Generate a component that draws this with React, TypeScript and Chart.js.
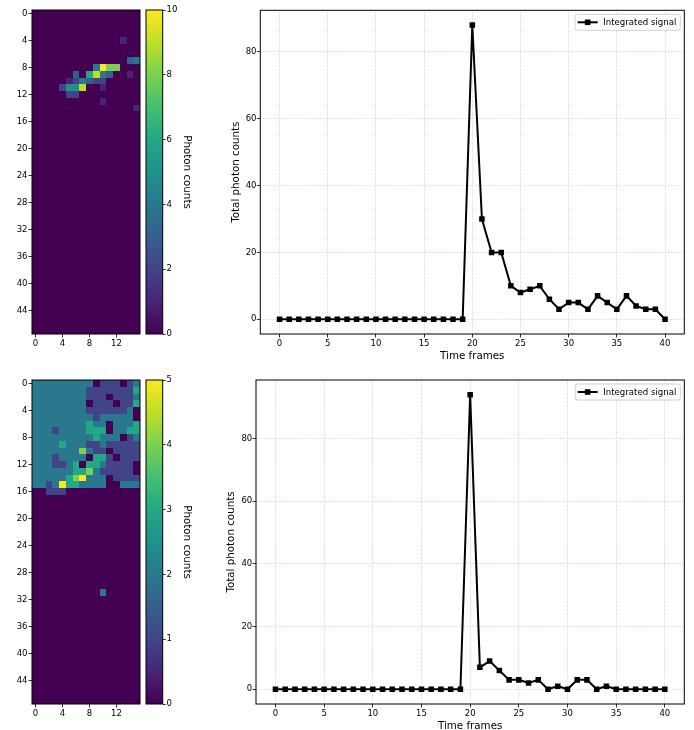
import React, { useEffect, useRef } from "react";
import { Chart, registerables } from "chart.js";

Chart.register(...registerables);

// ---------------- data ----------------
const FRAMES = [0, 1, 2, 3, 4, 5, 6, 7, 8, 9, 10, 11, 12, 13, 14, 15, 16, 17, 18, 19, 20, 21, 22, 23, 24, 25, 26, 27, 28, 29, 30, 31, 32, 33, 34, 35, 36, 37, 38, 39, 40];
const SIGNAL_TOP = [0, 0, 0, 0, 0, 0, 0, 0, 0, 0, 0, 0, 0, 0, 0, 0, 0, 0, 0, 0, 88, 30, 20, 20, 10, 8, 9, 10, 6, 3, 5, 5, 3, 7, 5, 3, 7, 4, 3, 3, 0];
const SIGNAL_BOTTOM = [0, 0, 0, 0, 0, 0, 0, 0, 0, 0, 0, 0, 0, 0, 0, 0, 0, 0, 0, 0, 94, 7, 9, 6, 3, 3, 2, 3, 0, 1, 0, 3, 3, 0, 1, 0, 0, 0, 0, 0, 0];

const LINE_X_TICKS = [0, 5, 10, 15, 20, 25, 30, 35, 40];
const LINE_Y_TICKS = [0, 20, 40, 60, 80];
const HEAT_X_TICKS = [0, 4, 8, 12];
const HEAT_Y_TICKS = [0, 4, 8, 12, 16, 20, 24, 28, 32, 36, 40, 44];
const CBAR_TICKS_TOP = [0, 2, 4, 6, 8, 10];
const CBAR_TICKS_BOTTOM = [0, 1, 2, 3, 4, 5];
const VMAX_TOP = 10;
const VMAX_BOTTOM = 5;

const HEAT_ROWS = 48;
const HEAT_COLS = 16;
// rows with photons: [row, 16 hex digits (a = 10)]; rows not listed are all 0
const TOP_FRAME_ROWS: [number, string][] = [
  [4, "0000000000000100"],
  [7, "0000000000000034"],
  [8, "0000000004a88000"],
  [9, "0000003069430010"],
  [10, "0000012432200000"],
  [11, "0000255900100000"],
  [12, "0000022000000000"],
  [13, "0000000000100000"],
  [14, "0000000000000001"],
];
const BOTTOM_FRAME_ROWS: [number, string][] = [
  [0, "2222222220111012"],
  [1, "2222222211111113"],
  [2, "2222222211101112"],
  [3, "2222222201110113"],
  [4, "2222222211111120"],
  [5, "2222222221222220"],
  [6, "2222222232202223"],
  [7, "2221222233302233"],
  [8, "2222222223222012"],
  [9, "2222322211211111"],
  [10, "2222222421101111"],
  [11, "2221222203310111"],
  [12, "2221123033211110"],
  [13, "2222223342111110"],
  [14, "2222234522201111"],
  [15, "2212533222200222"],
  [16, "0011100000000000"],
  [31, "0000000000200000"],
];

const SERIES_LABEL = "Integrated signal";
const X_TITLE = "Time frames";
const Y_TITLE = "Total photon counts";
const CBAR_TITLE = "Photon counts";

// ---------------- styling ----------------
const FONT = "'DejaVu Sans', 'Liberation Sans', sans-serif";
const TICK_PX = 8.5;
const LABEL_PX = 10.3;

const VIRIDIS_STOPS = ["#440154", "#482475", "#414487", "#355f8d", "#2a788e", "#21918c", "#22a884", "#44bf70", "#7ad151", "#bddf26", "#fde725"];
function hexRgb(h: string) {
  return [parseInt(h.slice(1, 3), 16), parseInt(h.slice(3, 5), 16), parseInt(h.slice(5, 7), 16)];
}
function viridis(t: number): string {
  const n = VIRIDIS_STOPS.length - 1;
  const tt = Math.min(1, Math.max(0, t)) * n;
  const i = Math.min(Math.floor(tt), n - 1);
  const f = tt - i;
  const a = hexRgb(VIRIDIS_STOPS[i]);
  const b = hexRgb(VIRIDIS_STOPS[i + 1]);
  const c = a.map((v, k) => Math.round(v + (b[k] - v) * f));
  return `rgb(${c[0]},${c[1]},${c[2]})`;
}

function buildGrid(rows: [number, string][]): number[][] {
  const g: number[][] = [];
  for (let r = 0; r < HEAT_ROWS; r++) g.push(new Array(HEAT_COLS).fill(0));
  for (const [r, s] of rows) for (let c = 0; c < HEAT_COLS; c++) g[r][c] = parseInt(s[c], 16);
  return g;
}

const tickFont = { family: FONT, size: TICK_PX };
const labelFont = { family: FONT, size: LABEL_PX };

function tickOpts(padding: number) {
  return { font: tickFont, color: "#000", padding, autoSkip: false, maxRotation: 0, minRotation: 0, callback: (v: any) => String(v) };
}
function tickGrid(len = 3.5) {
  return { display: true, drawOnChartArea: false, drawTicks: true, tickLength: len, tickColor: "#000", tickWidth: 0.8, color: "rgba(0,0,0,0)" };
}
function setTicks(list: number[]) {
  return (s: any) => {
    s.ticks = list.map((v) => ({ value: v }));
  };
}

const framePlugin = {
  id: "frame",
  afterDraw(chart: any) {
    const { ctx, chartArea: a } = chart;
    ctx.save();
    ctx.strokeStyle = "#000";
    ctx.lineWidth = 1;
    ctx.strokeRect(a.left, a.top, a.right - a.left, a.bottom - a.top);
    ctx.restore();
  },
};

function heatPlugin(grid: number[][], vmax: number) {
  return {
    id: "heat",
    beforeDatasetsDraw(chart: any) {
      const { ctx } = chart;
      const xs = chart.scales.x;
      const ys = chart.scales.y;
      ctx.save();
      for (let r = 0; r < grid.length; r++) {
        for (let c = 0; c < grid[r].length; c++) {
          const xa = Math.round(xs.getPixelForValue(c - 0.5));
          const xb = Math.round(xs.getPixelForValue(c + 0.5));
          const ya = Math.round(ys.getPixelForValue(r - 0.5));
          const yb = Math.round(ys.getPixelForValue(r + 0.5));
          ctx.fillStyle = viridis(grid[r][c] / vmax);
          ctx.fillRect(Math.min(xa, xb), Math.min(ya, yb), Math.abs(xb - xa), Math.abs(yb - ya));
        }
      }
      ctx.restore();
    },
  };
}

function cbarPlugin(vmax: number) {
  return {
    id: "cbar",
    beforeDatasetsDraw(chart: any) {
      const { ctx, chartArea: a } = chart;
      const ys = chart.scales.y;
      const y0 = ys.getPixelForValue(0);
      const y1 = ys.getPixelForValue(vmax);
      const grad = ctx.createLinearGradient(0, y0, 0, y1);
      const N = 64;
      for (let i = 0; i <= N; i++) grad.addColorStop(i / N, viridis(i / N));
      ctx.save();
      ctx.fillStyle = grad;
      ctx.fillRect(a.left, Math.min(y0, y1), a.right - a.left, Math.abs(y0 - y1));
      ctx.restore();
    },
  };
}

const legendPlugin = {
  id: "mplLegend",
  afterDraw(chart: any) {
    const { ctx, chartArea: a } = chart;
    const label = chart.data.datasets[0].label;
    ctx.save();
    ctx.font = `8.6px ${FONT}`;
    const tw = ctx.measureText(label).width;
    const h = 16;
    const w = 2.5 + 20 + 5.5 + tw + 4;
    const x = a.right - 4 - w;
    const y = a.top + 4;
    const r = 2.5;
    ctx.beginPath();
    ctx.moveTo(x + r, y);
    ctx.lineTo(x + w - r, y);
    ctx.arcTo(x + w, y, x + w, y + r, r);
    ctx.lineTo(x + w, y + h - r);
    ctx.arcTo(x + w, y + h, x + w - r, y + h, r);
    ctx.lineTo(x + r, y + h);
    ctx.arcTo(x, y + h, x, y + h - r, r);
    ctx.lineTo(x, y + r);
    ctx.arcTo(x, y, x + r, y, r);
    ctx.closePath();
    ctx.fillStyle = "rgba(255,255,255,0.85)";
    ctx.fill();
    ctx.strokeStyle = "#d0d0d0";
    ctx.lineWidth = 1;
    ctx.stroke();
    const cy = y + h / 2;
    ctx.strokeStyle = "#000";
    ctx.lineWidth = 2;
    ctx.beginPath();
    ctx.moveTo(x + 2.5, cy);
    ctx.lineTo(x + 22.5, cy);
    ctx.stroke();
    ctx.fillStyle = "#000";
    ctx.fillRect(x + 12.5 - 2.8, cy - 2.8, 5.6, 5.6);
    ctx.textBaseline = "middle";
    ctx.textAlign = "left";
    ctx.fillText(label, x + 28, cy + 0.5);
    ctx.restore();
  },
};

type Plot = { left: number; top: number; width: number; height: number };

function baseOptions() {
  return {
    animation: false,
    responsive: false,
    devicePixelRatio: 1,
    events: [],
    plugins: { legend: { display: false }, tooltip: { enabled: false } },
  };
}

function heatmapConfig(rows: [number, string][], vmax: number, plot: Plot, cw: number, ch: number) {
  const grid = buildGrid(rows);
  return {
    type: "scatter",
    data: { datasets: [] },
    options: {
      ...baseOptions(),
      layout: { padding: { left: 0, top: plot.top, right: cw - plot.left - plot.width, bottom: 0 } },
      scales: {
        x: {
          type: "linear", bounds: "data", min: -0.5, max: HEAT_COLS - 0.5,
          afterBuildTicks: setTicks(HEAT_X_TICKS),
          afterFit: (s: any) => { s.height = ch - plot.top - plot.height; },
          ticks: tickOpts(1.2), grid: tickGrid(), border: { display: false },
        },
        y: {
          type: "linear", bounds: "data", reverse: true, min: -0.5, max: HEAT_ROWS - 0.5,
          afterBuildTicks: setTicks(HEAT_Y_TICKS),
          afterFit: (s: any) => { s.width = plot.left; },
          ticks: tickOpts(1.0), grid: tickGrid(), border: { display: false },
        },
      },
    },
    plugins: [heatPlugin(grid, vmax), framePlugin],
  };
}

function colorbarConfig(vmax: number, ticks: number[], plot: Plot, cw: number, ch: number) {
  return {
    type: "scatter",
    data: { datasets: [] },
    options: {
      ...baseOptions(),
      layout: { padding: { left: plot.left, top: plot.top, right: 0, bottom: ch - plot.top - plot.height } },
      scales: {
        x: { type: "linear", display: false, min: 0, max: 1 },
        y: {
          type: "linear", position: "right", bounds: "data", min: 0, max: vmax,
          afterBuildTicks: setTicks(ticks),
          afterFit: (s: any) => { s.width = cw - plot.left - plot.width; },
          ticks: tickOpts(0.8), grid: tickGrid(3), border: { display: false },
          title: { display: true, text: CBAR_TITLE, font: labelFont, color: "#000", padding: { top: 6.8, bottom: 0 } },
        },
      },
    },
    plugins: [cbarPlugin(vmax), framePlugin],
  };
}

function lineConfig(values: number[], plot: Plot, cw: number, ch: number, yTitlePad: number, xTitlePad: number) {
  const vmax = Math.max(...values);
  const gridLines = {
    display: true, drawOnChartArea: true, drawTicks: true, tickLength: 3.5, tickColor: "#000", tickWidth: 0.8,
    color: "rgba(176,176,176,0.75)", lineWidth: 0.8,
  };
  return {
    type: "line",
    data: {
      datasets: [
        {
          label: SERIES_LABEL,
          data: FRAMES.map((f, i) => ({ x: f, y: values[i] })),
          borderColor: "#000",
          backgroundColor: "#000",
          borderWidth: 2,
          pointStyle: "rect",
          pointRadius: 3.9,
          pointBorderWidth: 0,
          pointBackgroundColor: "#000",
          tension: 0,
          fill: false,
        },
      ],
    },
    options: {
      ...baseOptions(),
      layout: { padding: { left: 0, top: plot.top, right: cw - plot.left - plot.width, bottom: 0 } },
      scales: {
        x: {
          type: "linear", bounds: "data", min: -2, max: 42,
          afterBuildTicks: setTicks(LINE_X_TICKS),
          afterFit: (s: any) => { s.height = ch - plot.top - plot.height; },
          ticks: tickOpts(1.2), grid: gridLines, border: { display: false, dash: [1, 1.6] },
          title: { display: true, text: X_TITLE, font: labelFont, color: "#000", padding: { top: 0, bottom: xTitlePad } },
        },
        y: {
          type: "linear", bounds: "data", min: -0.05 * vmax, max: 1.05 * vmax,
          afterBuildTicks: setTicks(LINE_Y_TICKS),
          afterFit: (s: any) => { s.width = plot.left; },
          ticks: tickOpts(0.3), grid: gridLines, border: { display: false, dash: [1, 1.6] },
          title: { display: true, text: Y_TITLE, font: labelFont, color: "#000", padding: { top: yTitlePad, bottom: 0 } },
        },
      },
    },
    plugins: [framePlugin, legendPlugin],
  };
}

function ChartBox({ left, top, width, height, make }: { left: number; top: number; width: number; height: number; make: () => any }) {
  const ref = useRef<HTMLCanvasElement>(null);
  useEffect(() => {
    const chart = new Chart(ref.current as HTMLCanvasElement, make());
    return () => chart.destroy();
  }, []);
  return (
    <canvas
      ref={ref}
      width={width}
      height={height}
      style={{ position: "absolute", left, top, width, height, display: "block" }}
    />
  );
}

export default function App() {
  return (
    <div style={{ position: "absolute", left: 0, top: 0, width: 694, height: 730, overflow: "hidden", background: "#fff" }}>
      {/* row 1 */}
      <ChartBox left={0} top={0} width={145} height={365}
        make={() => heatmapConfig(TOP_FRAME_ROWS, VMAX_TOP, { left: 32, top: 10, width: 108, height: 324 }, 145, 365)} />
      <ChartBox left={140} top={0} width={60} height={365}
        make={() => colorbarConfig(VMAX_TOP, CBAR_TICKS_TOP, { left: 6, top: 10, width: 16.7, height: 324 }, 60, 365)} />
      <ChartBox left={220} top={0} width={474} height={365}
        make={() => lineConfig(SIGNAL_TOP, { left: 40.3, top: 10.3, width: 424, height: 323.7 }, 474, 365, 9.8, 2.8)} />
      {/* row 2 */}
      <ChartBox left={0} top={365} width={145} height={380}
        make={() => heatmapConfig(BOTTOM_FRAME_ROWS, VMAX_BOTTOM, { left: 32, top: 15, width: 108, height: 324 }, 145, 380)} />
      <ChartBox left={140} top={365} width={60} height={380}
        make={() => colorbarConfig(VMAX_BOTTOM, CBAR_TICKS_BOTTOM, { left: 6, top: 15, width: 16.7, height: 324 }, 60, 380)} />
      <ChartBox left={220} top={365} width={474} height={380}
        make={() => lineConfig(SIGNAL_BOTTOM, { left: 36, top: 15, width: 428.3, height: 324 }, 474, 380, 4.8, 12.1)} />
    </div>
  );
}
